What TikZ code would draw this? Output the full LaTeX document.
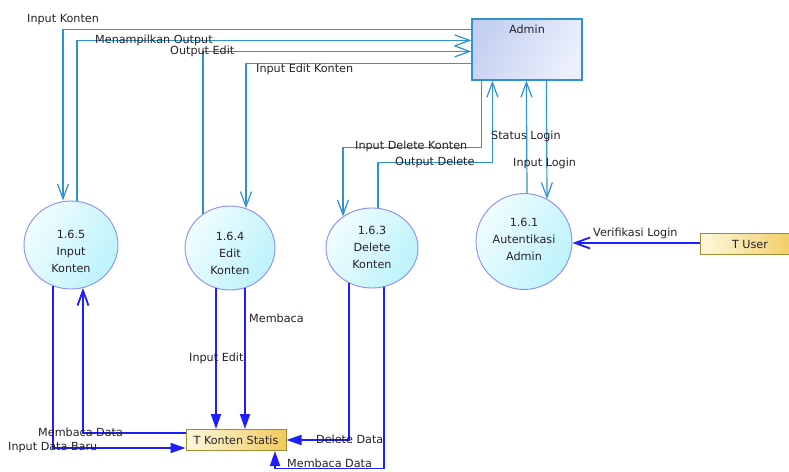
\documentclass[tikz,border=0pt]{standalone}
\usepackage{fontspec}
\setmainfont{DejaVu Sans}
\usetikzlibrary{arrows.meta,shapes.geometric,calc}
\definecolor{flowteal}{RGB}{48,148,204}
\definecolor{flowblue}{RGB}{30,30,255}
\definecolor{procedge}{RGB}{140,140,245}
\definecolor{procA}{RGB}{240,253,255}
\definecolor{procB}{RGB}{188,243,250}
\definecolor{entA}{RGB}{196,208,240}
\definecolor{entB}{RGB}{236,240,253}
\definecolor{storeA}{RGB}{253,248,222}
\definecolor{storeB}{RGB}{240,202,92}
\definecolor{storeedge}{RGB}{160,140,50}
\definecolor{ink}{RGB}{40,32,40}
\begin{document}
\begin{tikzpicture}[x=1pt,y=-1pt,
  every node/.style={font=\fontsize{11.2}{17}\selectfont, text=ink},
  entity/.style={draw=flowteal, line width=1.2pt, inner sep=0,
    minimum width=110pt, minimum height=61pt,
    left color=entA, right color=entB, shading angle=60},
  proc/.style={ellipse, draw=procedge, line width=0.9pt, inner sep=0,
    left color=procA, right color=procB, shading angle=60},
  ptext/.style={align=center, inner sep=0},
  store/.style={draw=storeedge, line width=1pt, inner sep=0,
    minimum width=100pt, minimum height=21pt,
    left color=storeA, right color=storeB},
  lbl/.style={inner sep=0, anchor=west},
  tealflow/.style={draw=flowteal, line width=1.2pt},
  blueflow/.style={draw=flowblue, line width=1.8pt},
  barb/.style={-{Straight Barb[length=15pt,width=11pt]}},
  solidtip/.style={-{Triangle[length=15pt,width=10pt]}}
]
\useasboundingbox (0,0) rectangle (789,471);
\fill[white] (0,0) rectangle (789,471);
\clip (0,0) rectangle (789,471);

% external entity, processes and data stores
\node[entity] (admin) at (527,49.5) {};
\node[inner sep=0] (admint) at (527,29) {Admin};

\node[proc, minimum width=94pt, minimum height=88pt] (p165) at (71,245) {};
\node[ptext] (t165) at (71,251) {1.6.5\\Input\\Konten};

\node[proc, minimum width=90pt, minimum height=84pt] (p164) at (230,248) {};
\node[ptext] (t164) at (230,253) {1.6.4\\Edit\\Konten};

\node[proc, minimum width=92pt, minimum height=80pt] (p163) at (372,248) {};
\node[ptext] (t163) at (372,247) {1.6.3\\Delete\\Konten};

\node[proc, minimum width=96pt, minimum height=96pt] (p161) at (524,241.5) {};
\node[ptext] (t161) at (524,239) {1.6.1\\Autentikasi\\Admin};

\node[store] (tuser) at (750,244) {T User};
\node[store] (tkonten) at (236,440) {T Konten Statis};

% flows between Admin and the processes
\draw[tealflow, barb] ($(admin.north west)+(0,11)$) -| ($(p165.north)+(-8,0)$);
\draw[tealflow, barb] ($(p165.north)+(6,0.4)$) |- ($(admin.north west)+(0,22)$);
\draw[tealflow, barb] ($(p164.north)+(-27,8.4)$) |- ($(admin.north west)+(0,33)$);
\draw[tealflow, barb] ($(admin.north west)+(0,45)$) -| ($(p164.north)+(16,2.7)$);
\draw[tealflow, barb] ($(admin.south west)+(10,0)$) -- ++(0,67) -| ($(p163.north)+(-29,9)$);
\draw[tealflow, barb] ($(p163.north)+(6,0.3)$) -- ++(0,-45.3) -| ($(admin.south west)+(21,0)$);
\draw[tealflow, barb] ($(p161.north)+(3,0)$) -- ($(admin.south west)+(55,0)$);
\draw[tealflow, barb] ($(admin.south west)+(75,0)$) -- ($(p161.north)+(23,6.1)$);

% flows with the data stores
\draw[blueflow, barb] ($(tuser.west)+(0,-1)$) -- ($(tuser.west -| p161.east)+(0,-1)$);
\draw[blueflow, solidtip] ($(p165.south)+(-18,-3.4)$) |- ($(tkonten.west)+(0,8)$);
\draw[blueflow, barb] ($(tkonten.west)+(0,-7)$) -| ($(p165.south)+(12,-1.5)$);
\draw[blueflow, solidtip] ($(p164.south)+(-14,-2.1)$) -- ($(tkonten.north)+(-20,0)$);
\draw[blueflow, solidtip] ($(p164.south)+(15,-2.4)$) -- ($(tkonten.north)+(9,0)$);
\draw[blueflow, solidtip] ($(p163.south)+(-23,-5.4)$) |- (tkonten.east);
\draw[blueflow, solidtip] ($(p163.south)+(12,-1.4)$) -- ++(0,181.4) -| ($(tkonten.south)+(39,0)$);

% flow labels
\node[lbl] (l1) at (27,20) {Input Konten};
\node[lbl] (l2) at (95,40) {Menampilkan Output};
\node[lbl] (l3) at (170,51) {Output Edit};
\node[lbl] (l4) at (256,69) {Input Edit Konten};
\node[lbl] (l5) at (355,146) {Input Delete Konten};
\node[lbl] (l6) at (395,162) {Output Delete};
\node[lbl] (l7) at (491,136) {Status Login};
\node[lbl] (l8) at (513,163) {Input Login};
\node[lbl] (l9) at (593,233) {Verifikasi Login};
\node[lbl] (l10) at (249,318) {Membaca};
\node[lbl] (l11) at (189,358) {Input Edit};
\node[lbl] (l12) at (38,432) {Membaca Data};
\node[lbl] (l13) at (8,448) {Input Data Baru};
\node[lbl] (l14) at (316,439) {Delete Data};
\node[lbl] (l15) at (287,463) {Membaca Data};
\end{tikzpicture}
\end{document}
